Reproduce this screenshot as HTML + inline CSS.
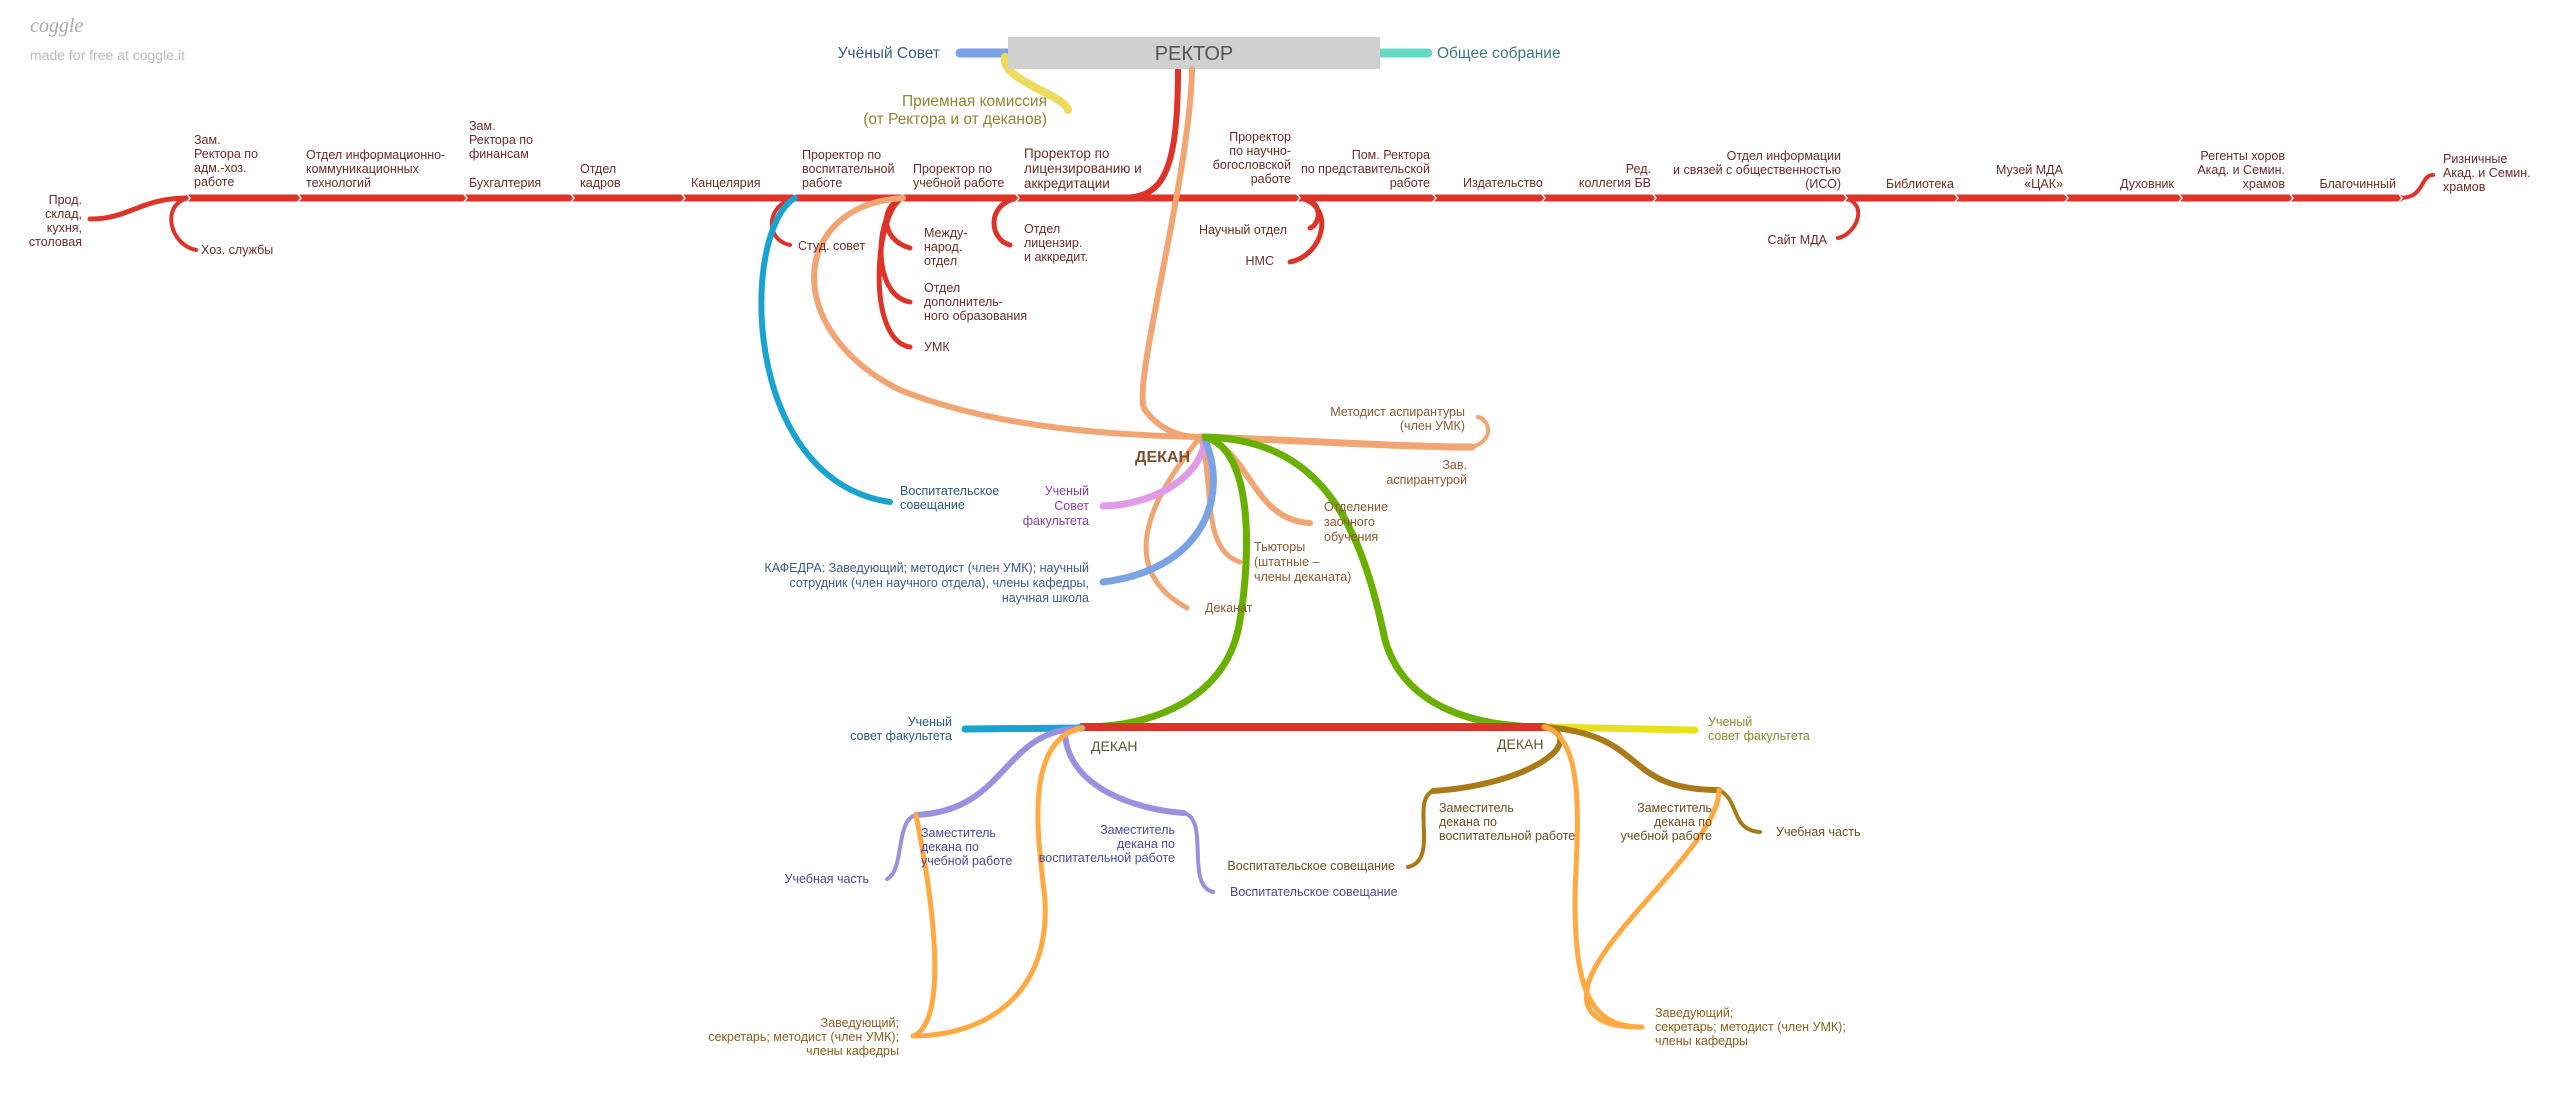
<!DOCTYPE html>
<html><head><meta charset="utf-8"><style>
html,body{margin:0;padding:0;background:#fff;}
svg{display:block;font-family:"Liberation Sans",sans-serif;}
.t{font-size:12.5px;fill:#6b2b2b;}
.r{text-anchor:end;}
.m{text-anchor:middle;}
path{fill:none;stroke-linecap:round;}
</style></head><body>
<svg width="2560" height="1093" viewBox="0 0 2560 1093" xmlns="http://www.w3.org/2000/svg">
<rect width="2560" height="1093" fill="#fff"/>
<text x="30" y="32" font-size="20" font-style="italic" fill="#aaa" font-family="Liberation Serif,serif">coggle</text>
<text x="30" y="60" font-size="14" fill="#bbb">made for free at coggle.it</text>

<g stroke="#dd3328">
<path d="M90,219 C130,219 140,198 188,198" stroke-width="5"/>
<path d="M188,198 L2400,198" stroke-width="7"/>
<path d="M2400,198 C2425,198 2420,175 2433,175" stroke-width="4"/>
<path d="M1178,69 C1178,180 1160,198 1120,198" stroke-width="6"/>
<path d="M188,198 C160,205 170,245 196,250" stroke-width="4"/>
<path d="M795,198 C765,205 765,240 790,245" stroke-width="4"/>
<path d="M903,198 C880,205 880,240 910,248" stroke-width="5"/>
<path d="M903,198 C875,210 870,295 910,302" stroke-width="5"/>
<path d="M903,198 C875,210 865,340 910,347" stroke-width="5"/>
<path d="M1017,198 C985,205 990,240 1010,245" stroke-width="5"/>
<path d="M1300,198 C1325,200 1320,225 1310,228" stroke-width="5"/>
<path d="M1300,198 C1335,205 1325,255 1290,262" stroke-width="5"/>
<path d="M1845,198 C1870,205 1855,235 1838,238" stroke-width="4"/>
</g>
<g stroke="#fff" stroke-width="1.5" fill="none">
<path d="M186,193 L190,198 L186,203 M297,193 L301,198 L297,203 M463,193 L467,198 L463,203 M570,193 L574,198 L570,203 M681,193 L685,198 L681,203 M793,193 L797,198 L793,203 M901,193 L905,198 L901,203 M1015,193 L1019,198 L1015,203 M1296,193 L1300,198 L1296,203 M1432,193 L1436,198 L1432,203 M1541,193 L1545,198 L1541,203 M1652,193 L1656,198 L1652,203 M1843,193 L1847,198 L1843,203 M1954,193 L1958,198 L1954,203 M2064,193 L2068,198 L2064,203 M2178,193 L2182,198 L2178,203 M2289,193 L2293,198 L2289,203 M2398,193 L2402,198 L2398,203"/>
</g>

<path d="M1008,53 L960,53" stroke="#7aa3e5" stroke-width="9"/>
<path d="M1380,53 L1428,53" stroke="#66d9c4" stroke-width="9"/>
<path d="M1005,57 C1000,80 1065,95 1068,110" stroke="#eedb5e" stroke-width="8"/>
<rect x="1008" y="37" width="372" height="32" fill="#d0d0d0"/>
<text x="1194" y="60" font-size="20" fill="#555" class="m">РЕКТОР</text>
<text x="940" y="58" font-size="15.5" fill="#3d5a8a" class="r">Учёный Совет</text>
<text x="1437" y="58" font-size="15.5" fill="#3f7a7a">Общее собрание</text>
<text x="1047" y="106" font-size="15.5" fill="#8a8a30" class="r">Приемная комиссия</text>
<text x="1047" y="124" font-size="15.5" fill="#8a8a30" class="r">(от Ректора и от деканов)</text>

<g stroke="#f0a572">
<path d="M1192,69 C1190,180 1130,390 1145,410 C1160,430 1180,437 1200,437" stroke-width="6"/>
<path d="M903,198 C790,205 780,330 900,390 C1000,430 1120,435 1200,437" stroke-width="6"/>
<path d="M1200,437 C1300,440 1400,447 1472,447" stroke-width="7"/>
<path d="M1472,447 C1495,440 1490,420 1478,417" stroke-width="4"/>
<path d="M1200,437 C1175,470 1100,560 1187,608" stroke-width="5"/>
<path d="M1200,437 C1215,480 1200,550 1240,562" stroke-width="5"/>
<path d="M1200,437 C1250,445 1250,520 1310,523" stroke-width="6"/>
</g>
<path d="M795,198 C740,230 740,480 890,502" stroke="#19a3d0" stroke-width="6"/>
<path d="M1205,440 C1200,480 1150,505 1103,506" stroke="#e09ae8" stroke-width="7"/>
<path d="M1205,440 C1230,500 1200,570 1103,582" stroke="#7aa3e5" stroke-width="7"/>
<g stroke="#6ab000" stroke-width="7">
<path d="M1205,437 C1255,450 1250,560 1240,620 C1228,700 1150,727 1085,727"/>
<path d="M1205,437 C1320,440 1360,520 1385,640 C1405,710 1480,727 1545,727"/>
</g>
<path d="M1082,727 L1545,727" stroke="#dd3328" stroke-width="8"/>
<path d="M1082,728 L965,729" stroke="#19a3d0" stroke-width="7"/>
<path d="M1545,727 L1695,730" stroke="#e8e020" stroke-width="7"/>
<g stroke="#9a90e0">
<path d="M1082,728 C1000,730 1010,810 916,815" stroke-width="6"/>
<path d="M916,815 C895,820 905,870 887,879" stroke-width="4"/>
<path d="M1065,735 C1070,790 1140,810 1184,813" stroke-width="6"/>
<path d="M1184,813 C1210,820 1185,885 1213,892" stroke-width="4"/>
</g>
<g stroke="#ffa940" stroke-width="5">
<path d="M1082,728 C1020,740 1040,850 1045,900 C1050,1000 980,1036 913,1036"/>
<path d="M916,815 C925,860 955,1020 913,1036"/>
</g>
<g stroke="#a87a18">
<path d="M1545,727 C1590,740 1530,785 1433,791" stroke-width="6"/>
<path d="M1433,791 C1410,800 1440,860 1408,867" stroke-width="4"/>
<path d="M1545,727 C1650,735 1620,790 1719,790" stroke-width="6"/>
<path d="M1719,790 C1740,800 1730,830 1760,832" stroke-width="4"/>
</g>
<g stroke="#ffa940" stroke-width="5">
<path d="M1545,727 C1590,740 1575,850 1575,900 C1575,990 1590,1027 1642,1027"/>
<path d="M1719,790 C1720,850 1560,960 1590,1010 C1600,1025 1620,1027 1642,1027"/>
</g>

<g class="t">
<text class="r" x="82" y="204"><tspan x="82">Прод.</tspan><tspan x="82" dy="14">склад,</tspan><tspan x="82" dy="14">кухня,</tspan><tspan x="82" dy="14">столовая</tspan></text>
<text x="194" y="144"><tspan x="194">Зам.</tspan><tspan x="194" dy="14">Ректора по</tspan><tspan x="194" dy="14">адм.-хоз.</tspan><tspan x="194" dy="14">работе</tspan></text>
<text x="306" y="159"><tspan x="306">Отдел информационно-</tspan><tspan x="306" dy="14">коммуникационных</tspan><tspan x="306" dy="14">технологий</tspan></text>
<text x="469" y="130"><tspan x="469">Зам.</tspan><tspan x="469" dy="14">Ректора по</tspan><tspan x="469" dy="14">финансам</tspan><tspan x="469" dy="29">Бухгалтерия</tspan></text>
<text x="580" y="173"><tspan x="580">Отдел</tspan><tspan x="580" dy="14">кадров</tspan></text>
<text x="691" y="187">Канцелярия</text>
<text x="802" y="159"><tspan x="802">Проректор по</tspan><tspan x="802" dy="14">воспитательной</tspan><tspan x="802" dy="14">работе</tspan></text>
<text x="913" y="173"><tspan x="913">Проректор по</tspan><tspan x="913" dy="14">учебной работе</tspan></text>
<text x="1024" y="158" font-size="13.5"><tspan x="1024">Проректор по</tspan><tspan x="1024" dy="15">лицензированию и</tspan><tspan x="1024" dy="15">аккредитации</tspan></text>
<text class="r" x="1291" y="141"><tspan x="1291">Проректор</tspan><tspan x="1291" dy="14">по научно-</tspan><tspan x="1291" dy="14">богословской</tspan><tspan x="1291" dy="14">работе</tspan></text>
<text class="r" x="1430" y="159"><tspan x="1430">Пом. Ректора</tspan><tspan x="1430" dy="14">по представительской</tspan><tspan x="1430" dy="14">работе</tspan></text>
<text x="1463" y="187">Издательство</text>
<text class="r" x="1651" y="173"><tspan x="1651">Ред.</tspan><tspan x="1651" dy="14">коллегия БВ</tspan></text>
<text class="r" x="1841" y="160"><tspan x="1841">Отдел информации</tspan><tspan x="1841" dy="14">и связей с общественностью</tspan><tspan x="1841" dy="14">(ИСО)</tspan></text>
<text x="1886" y="188">Библиотека</text>
<text class="r" x="2063" y="174"><tspan x="2063">Музей МДА</tspan><tspan x="2063" dy="14">«ЦАК»</tspan></text>
<text class="r" x="2174" y="188">Духовник</text>
<text class="r" x="2285" y="160"><tspan x="2285">Регенты хоров</tspan><tspan x="2285" dy="14">Акад. и Семин.</tspan><tspan x="2285" dy="14">храмов</tspan></text>
<text class="r" x="2396" y="188">Благочинный</text>
<text x="2443" y="163"><tspan x="2443">Ризничные</tspan><tspan x="2443" dy="14">Акад. и Семин.</tspan><tspan x="2443" dy="14">храмов</tspan></text>
<text x="201" y="254">Хоз. службы</text>
<text x="798" y="250">Студ. совет</text>
<text x="924" y="237"><tspan x="924">Между-</tspan><tspan x="924" dy="14">народ.</tspan><tspan x="924" dy="14">отдел</tspan></text>
<text x="924" y="292"><tspan x="924">Отдел</tspan><tspan x="924" dy="14">дополнитель-</tspan><tspan x="924" dy="14">ного образования</tspan></text>
<text x="924" y="351">УМК</text>
<text x="1024" y="233"><tspan x="1024">Отдел</tspan><tspan x="1024" dy="14">лицензир.</tspan><tspan x="1024" dy="14">и аккредит.</tspan></text>
<text class="r" x="1287" y="234">Научный отдел</text>
<text class="r" x="1274" y="265">НМС</text>
<text class="r" x="1827" y="244">Сайт МДА</text>
</g>

<text x="1190" y="462" font-size="16" font-weight="bold" fill="#7a5030" class="r">ДЕКАН</text>
<g font-size="12.5">
<text fill="#8a5a30" class="r" x="1465" y="416"><tspan x="1465">Методист аспирантуры</tspan><tspan x="1465" dy="14">(член УМК)</tspan></text>
<text fill="#8a5a30" class="r" x="1467" y="469"><tspan x="1467">Зав.</tspan><tspan x="1467" dy="15">аспирантурой</tspan></text>
<text fill="#2a5a7a" x="900" y="495"><tspan x="900">Воспитательское</tspan><tspan x="900" dy="14">совещание</tspan></text>
<text fill="#8a40a0" class="r" x="1089" y="495"><tspan x="1089">Ученый</tspan><tspan x="1089" dy="15">Совет</tspan><tspan x="1089" dy="15">факультета</tspan></text>
<text fill="#3d5a8a" class="r" x="1089" y="572"><tspan x="1089">КАФЕДРА: Заведующий; методист (член УМК); научный</tspan><tspan x="1089" dy="15">сотрудник (член научного отдела), члены кафедры,</tspan><tspan x="1089" dy="15">научная школа</tspan></text>
<text fill="#8a5a30" x="1205" y="612">Деканат</text>
<text fill="#8a5a30" x="1254" y="551"><tspan x="1254">Тьюторы</tspan><tspan x="1254" dy="15">(штатные –</tspan><tspan x="1254" dy="15">члены деканата)</tspan></text>
<text fill="#8a5a30" x="1324" y="511"><tspan x="1324">Отделение</tspan><tspan x="1324" dy="15">заочного</tspan><tspan x="1324" dy="15">обучения</tspan></text>

<text fill="#2a5a7a" class="r" x="952" y="726"><tspan x="952">Ученый</tspan><tspan x="952" dy="14">совет факультета</tspan></text>
<text fill="#8a8a30" x="1708" y="726"><tspan x="1708">Ученый</tspan><tspan x="1708" dy="14">совет факультета</tspan></text>
<text fill="#5a5a30" font-size="14" x="1091" y="751">ДЕКАН</text>
<text fill="#5a5a30" font-size="14" x="1497" y="749">ДЕКАН</text>

<text fill="#4a4a9a" x="921" y="837"><tspan x="921">Заместитель</tspan><tspan x="921" dy="14">декана по</tspan><tspan x="921" dy="14">учебной работе</tspan></text>
<text fill="#4a4a9a" class="r" x="869" y="883">Учебная часть</text>
<text fill="#4a4a9a" class="r" x="1175" y="834"><tspan x="1175">Заместитель</tspan><tspan x="1175" dy="14">декана по</tspan><tspan x="1175" dy="14">воспитательной работе</tspan></text>
<text fill="#4a4a9a" x="1230" y="896">Воспитательское совещание</text>
<text fill="#8a6020" class="r" x="899" y="1027"><tspan x="899">Заведующий;</tspan><tspan x="899" dy="14">секретарь; методист (член УМК);</tspan><tspan x="899" dy="14">члены кафедры</tspan></text>

<text fill="#6a5020" x="1439" y="812"><tspan x="1439">Заместитель</tspan><tspan x="1439" dy="14">декана по</tspan><tspan x="1439" dy="14">воспитательной работе</tspan></text>
<text fill="#6a5020" class="r" x="1395" y="870">Воспитательское совещание</text>
<text fill="#6a5020" class="r" x="1712" y="812"><tspan x="1712">Заместитель</tspan><tspan x="1712" dy="14">декана по</tspan><tspan x="1712" dy="14">учебной работе</tspan></text>
<text fill="#6a5020" x="1776" y="836">Учебная часть</text>
<text fill="#8a6020" x="1655" y="1017"><tspan x="1655">Заведующий;</tspan><tspan x="1655" dy="14">секретарь; методист (член УМК);</tspan><tspan x="1655" dy="14">члены кафедры</tspan></text>
</g>
</svg>
</body></html>
